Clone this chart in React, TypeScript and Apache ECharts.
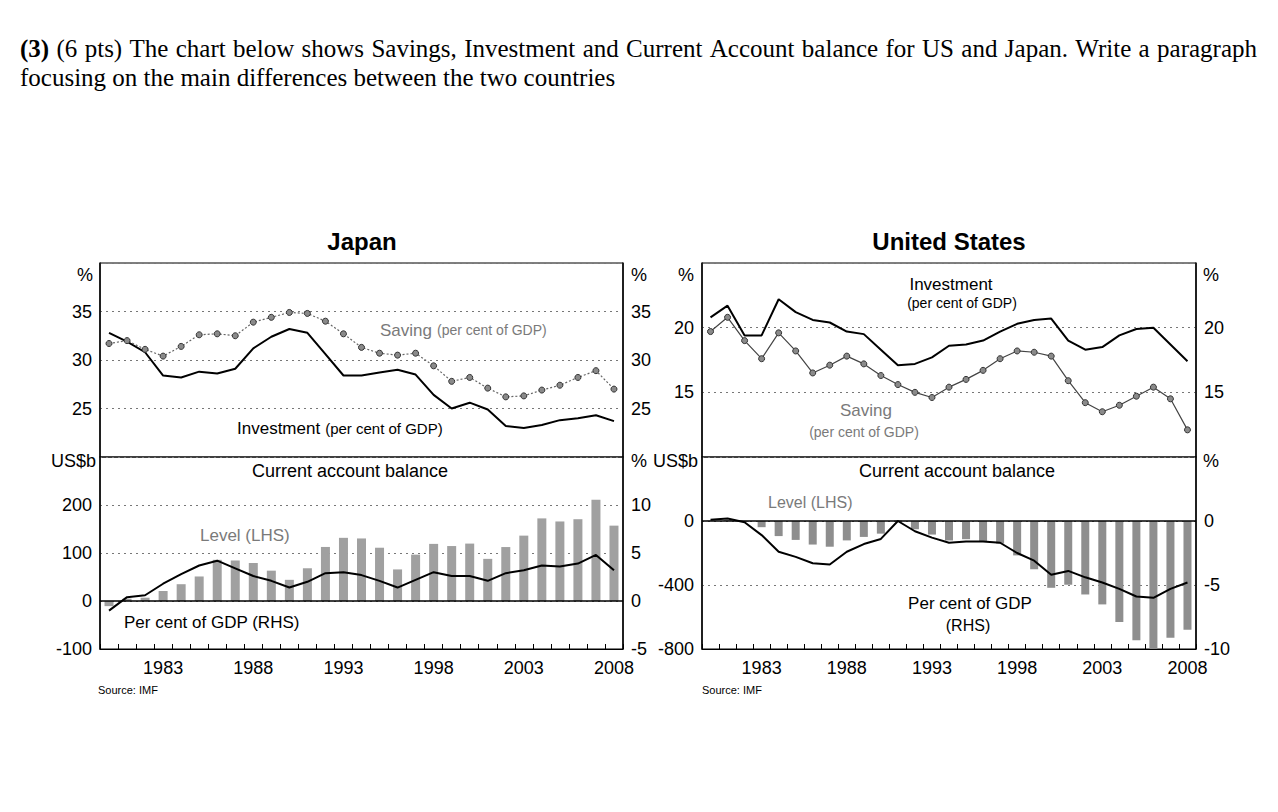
import React, { useEffect, useRef } from "react";
import * as echarts from "echarts";

const years = [
  "1980", "1981", "1982", "1983", "1984", "1985", "1986", "1987", "1988", "1989",
  "1990", "1991", "1992", "1993", "1994", "1995", "1996", "1997", "1998", "1999",
  "2000", "2001", "2002", "2003", "2004", "2005", "2006", "2007", "2008",
];
const yearLabels = ["1983", "1988", "1993", "1998", "2003", "2008"];

// Japan, per cent of GDP
const jpSaving = [
  31.7, 32.0, 31.1, 30.4, 31.4, 32.6, 32.7, 32.5, 33.9, 34.4,
  34.9, 34.8, 34.0, 32.7, 31.3, 30.7, 30.5, 30.7, 29.4, 27.8,
  28.2, 27.1, 26.2, 26.3, 26.9, 27.4, 28.2, 28.9, 27.0,
];
const jpInvestment = [
  32.8, 31.9, 30.8, 28.4, 28.2, 28.8, 28.6, 29.1, 31.2, 32.4,
  33.2, 32.8, 30.6, 28.4, 28.4, 28.7, 29.0, 28.5, 26.4, 25.0,
  25.6, 24.9, 23.2, 23.0, 23.3, 23.8, 24.0, 24.3, 23.7,
];
// Japan current account, US$b (LHS) and per cent of GDP (RHS)
const jpCaLevel = [
  -10.7, 4.8, 6.9, 20.8, 35.0, 51.1, 85.8, 84.4, 79.2, 63.2,
  44.1, 68.2, 112.6, 131.6, 130.3, 111.0, 65.8, 96.6, 119.0, 114.5,
  119.6, 87.8, 112.4, 136.2, 172.1, 165.7, 170.4, 211.0, 157.0,
];
const jpCaPct = [
  -1.0, 0.4, 0.6, 1.8, 2.8, 3.7, 4.2, 3.4, 2.6, 2.1,
  1.4, 2.0, 2.9, 3.0, 2.7, 2.1, 1.4, 2.2, 3.0, 2.6,
  2.6, 2.1, 2.9, 3.2, 3.7, 3.6, 3.9, 4.8, 3.2,
];

// United States, per cent of GDP
const usInvestment = [
  20.8, 21.7, 19.4, 19.4, 22.2, 21.2, 20.6, 20.4, 19.7, 19.5,
  18.3, 17.1, 17.2, 17.7, 18.6, 18.7, 19.0, 19.7, 20.3, 20.6,
  20.7, 19.0, 18.3, 18.5, 19.4, 19.9, 20.0, 18.7, 17.4,
];
const usSaving = [
  19.7, 20.8, 19.0, 17.6, 19.6, 18.2, 16.5, 17.1, 17.8, 17.2,
  16.3, 15.6, 15.0, 14.6, 15.4, 16.0, 16.7, 17.6, 18.2, 18.1,
  17.8, 15.9, 14.2, 13.5, 14.0, 14.7, 15.4, 14.5, 12.1,
];
// US current account, US$b (LHS) and per cent of GDP (RHS)
const usCaLevel = [
  2.3, 5.0, -5.5, -38.7, -94.3, -118.2, -147.2, -160.7, -121.2, -99.5,
  -79.0, 2.9, -51.6, -84.8, -121.6, -113.6, -124.8, -140.7, -215.0, -301.6,
  -417.4, -398.3, -459.2, -521.3, -631.1, -745.0, -800.0, -730.0, -680.0,
];
const usCaPct = [
  0.1, 0.2, -0.1, -1.1, -2.4, -2.8, -3.3, -3.4, -2.4, -1.8,
  -1.4, 0.0, -0.8, -1.3, -1.7, -1.6, -1.6, -1.7, -2.5, -3.1,
  -4.2, -3.9, -4.4, -4.8, -5.3, -5.9, -6.0, -5.3, -4.8,
];

const headerLine1 =
  "(3) (6 pts) The chart below shows Savings, Investment and Current Account balance for US and Japan. Write a paragraph";
const headerLine2 = "focusing on the main differences between the two countries";

const SANS = '"Liberation Sans", Arial, sans-serif';
const SERIF = '"Liberation Serif", "Times New Roman", serif';
const HEADER_SIZE = 25;

function txt(
  text: string,
  x: number,
  y: number,
  opts: { size?: number; color?: string; align?: string; bold?: boolean; family?: string; rich?: any } = {}
) {
  const size = opts.size ?? 18;
  const align = opts.align ?? "center";
  const font = `${opts.bold ? "bold " : ""}${size}px ${opts.family ?? SANS}`;
  return {
    type: "text",
    x,
    y,
    silent: true,
    style: {
      text,
      font,
      fill: opts.color ?? "#000",
      align,
      textAlign: align,
      verticalAlign: "middle",
      textVerticalAlign: "middle",
      rich: opts.rich,
    },
  };
}

// justified first header line: words spread between x0 and x1
function justifiedLine(line: string, x0: number, x1: number, y: number) {
  const words = line.split(" ");
  const canvas = document.createElement("canvas");
  const ctx = canvas.getContext("2d")!;
  const fonts = words.map((w, i) => `${i === 0 ? "bold " : ""}${HEADER_SIZE}px ${SERIF}`);
  const widths = words.map((w, i) => {
    ctx.font = fonts[i];
    return ctx.measureText(w).width;
  });
  const total = widths.reduce((a, b) => a + b, 0);
  const gap = (x1 - x0 - total) / (words.length - 1);
  let x = x0;
  return words.map((w, i) => {
    const el = txt(w, x, y, { size: HEADER_SIZE, align: "left", family: SERIF, bold: i === 0 });
    x += widths[i] + gap;
    return el;
  });
}

export default function App() {
  const ref = useRef<HTMLDivElement>(null);

  useEffect(() => {
    if (!ref.current) return;
    const chart = echarts.init(ref.current, null, { renderer: "svg" });

    const grids = [
      { left: 100, width: 523, top: 263, height: 194 },
      { left: 100, width: 523, top: 457, height: 192 },
      { left: 702, width: 494, top: 263, height: 194 },
      { left: 702, width: 494, top: 457, height: 192 },
    ].map((g) => ({ ...g, show: true, borderColor: "#000", borderWidth: 1, backgroundColor: "transparent" }));

    const xAxis = [0, 1, 2, 3].map((gi) => {
      const bottom = gi === 1 || gi === 3;
      return {
        type: "category",
        gridIndex: gi,
        data: years,
        boundaryGap: true,
        axisLine: { show: bottom, onZero: false, lineStyle: { color: "#000", width: 1 } },
        axisTick: { show: bottom, inside: true, length: 5, interval: 0, lineStyle: { color: "#000" } },
        axisLabel: {
          show: bottom,
          interval: (_i: number, v: string) => yearLabels.includes(v),
          color: "#000",
          fontSize: 18,
          fontFamily: SANS,
          margin: 10,
        },
        splitLine: { show: false },
      };
    });

    const gridLine = { show: true, lineStyle: { color: "#777", type: [2, 4], width: 1 } };
    const lbl = (extra: any = {}) => ({ color: "#000", fontSize: 18, fontFamily: SANS, margin: 8, ...extra });

    const yAxis = [
      { gridIndex: 0, position: "left", min: 20, max: 40, interval: 5, split: true, minL: false, maxL: false },
      { gridIndex: 0, position: "right", min: 20, max: 40, interval: 5, split: false, minL: false, maxL: false },
      { gridIndex: 1, position: "left", min: -100, max: 300, interval: 100, split: true, minL: true, maxL: false },
      { gridIndex: 1, position: "right", min: -5, max: 15, interval: 5, split: false, minL: true, maxL: false },
      { gridIndex: 2, position: "left", min: 10, max: 25, interval: 5, split: true, minL: false, maxL: false },
      { gridIndex: 2, position: "right", min: 10, max: 25, interval: 5, split: false, minL: false, maxL: false },
      { gridIndex: 3, position: "left", min: -800, max: 400, interval: 400, split: true, minL: true, maxL: false },
      { gridIndex: 3, position: "right", min: -10, max: 5, interval: 5, split: false, minL: true, maxL: false },
    ].map((a) => ({
      type: "value",
      gridIndex: a.gridIndex,
      position: a.position,
      min: a.min,
      max: a.max,
      interval: a.interval,
      axisLine: { show: true, lineStyle: { color: "#000", width: 1.5 } },
      axisTick: { show: false },
      axisLabel: lbl({ showMinLabel: a.minL, showMaxLabel: a.maxL }),
      splitLine: a.split ? gridLine : { show: false },
    }));

    const zeroLine = {
      silent: true,
      symbol: "none",
      label: { show: false },
      lineStyle: { color: "#000", type: "solid", width: 1.5 },
      data: [{ yAxis: 0 }],
    };

    const series: any[] = [
      {
        name: "Japan Investment",
        type: "line",
        xAxisIndex: 0,
        yAxisIndex: 0,
        data: jpInvestment,
        symbol: "none",
        lineStyle: { color: "#000", width: 2 },
        z: 5,
      },
      {
        name: "Japan Saving",
        type: "line",
        xAxisIndex: 0,
        yAxisIndex: 0,
        data: jpSaving,
        symbol: "circle",
        symbolSize: 6,
        itemStyle: { color: "#8a8a8a", borderColor: "#333", borderWidth: 1 },
        lineStyle: { color: "#666", width: 1.2, type: [2, 2] },
        z: 6,
      },
      {
        name: "Japan CA level",
        type: "bar",
        xAxisIndex: 1,
        yAxisIndex: 2,
        data: jpCaLevel,
        barWidth: 9,
        itemStyle: { color: "#a0a0a0" },
        markLine: zeroLine,
        z: 2,
      },
      {
        name: "Japan CA pct",
        type: "line",
        xAxisIndex: 1,
        yAxisIndex: 3,
        data: jpCaPct,
        symbol: "none",
        lineStyle: { color: "#000", width: 2 },
        z: 5,
      },
      {
        name: "US Investment",
        type: "line",
        xAxisIndex: 2,
        yAxisIndex: 4,
        data: usInvestment,
        symbol: "none",
        lineStyle: { color: "#000", width: 2 },
        z: 5,
      },
      {
        name: "US Saving",
        type: "line",
        xAxisIndex: 2,
        yAxisIndex: 4,
        data: usSaving,
        symbol: "circle",
        symbolSize: 6,
        itemStyle: { color: "#8a8a8a", borderColor: "#333", borderWidth: 1 },
        lineStyle: { color: "#444", width: 1.2 },
        z: 6,
      },
      {
        name: "US CA level",
        type: "bar",
        xAxisIndex: 3,
        yAxisIndex: 6,
        data: usCaLevel,
        barWidth: 8,
        itemStyle: { color: "#8e8e8e" },
        markLine: zeroLine,
        z: 2,
      },
      {
        name: "US CA pct",
        type: "line",
        xAxisIndex: 3,
        yAxisIndex: 7,
        data: usCaPct,
        symbol: "none",
        lineStyle: { color: "#000", width: 2 },
        z: 5,
      },
    ];

    const grey = "#7a7a7a";
    const graphic = [
      ...justifiedLine(headerLine1, 20, 1257, 48),
      txt(headerLine2, 20, 77, { size: HEADER_SIZE, align: "left", family: SERIF }),
      txt("Japan", 362, 241, { size: 24, bold: true }),
      txt("United States", 949, 241, { size: 24, bold: true }),
      txt("%", 93, 275, { align: "right" }),
      txt("%", 631, 275, { align: "left" }),
      txt("US$b", 96, 461, { align: "right" }),
      txt("%", 631, 461, { align: "left" }),
      txt("%", 694, 275, { align: "right" }),
      txt("US$b", 698, 461, { align: "right" }),
      txt("%", 1203, 275, { align: "left" }),
      txt("%", 1203, 461, { align: "left" }),
      txt("Current account balance", 350, 471),
      txt("Current account balance", 957, 471),
      txt("Source: IMF", 98, 690, { size: 11, align: "left" }),
      txt("Source: IMF", 702, 690, { size: 11, align: "left" }),
      // Japan annotations
      txt("{a|Saving} {b|(per cent of GDP)}", 380, 330, {
        align: "left", color: grey,
        rich: { a: { font: `17px ${SANS}`, fill: grey }, b: { font: `14px ${SANS}`, fill: grey } },
      }),
      txt("{a|Investment} {b|(per cent of GDP)}", 237, 428, {
        align: "left",
        rich: { a: { font: `17px ${SANS}`, fill: "#000" }, b: { font: `15px ${SANS}`, fill: "#000" } },
      }),
      txt("Level (LHS)", 200, 535, { size: 17, align: "left", color: grey }),
      txt("Per cent of GDP (RHS)", 124, 622, { size: 17, align: "left" }),
      // US annotations
      txt("Investment", 951, 284, { size: 17 }),
      txt("(per cent of GDP)", 962, 303, { size: 14 }),
      txt("Saving", 866, 410, { size: 17, color: grey }),
      txt("(per cent of GDP)", 864, 432, { size: 14, color: grey }),
      txt("Level (LHS)", 768, 502, { size: 16, align: "left", color: grey }),
      txt("Per cent of GDP", 970, 603, { size: 17 }),
      txt("(RHS)", 968, 625, { size: 16 }),
    ];

    chart.setOption({
      animation: false,
      backgroundColor: "#fff",
      grid: grids,
      xAxis,
      yAxis,
      series,
      graphic,
    });

    return () => chart.dispose();
  }, []);

  return (
    <div
      ref={ref}
      style={{ position: "fixed", left: 0, top: 0, width: 1278, height: 812, background: "#fff" }}
    />
  );
}
